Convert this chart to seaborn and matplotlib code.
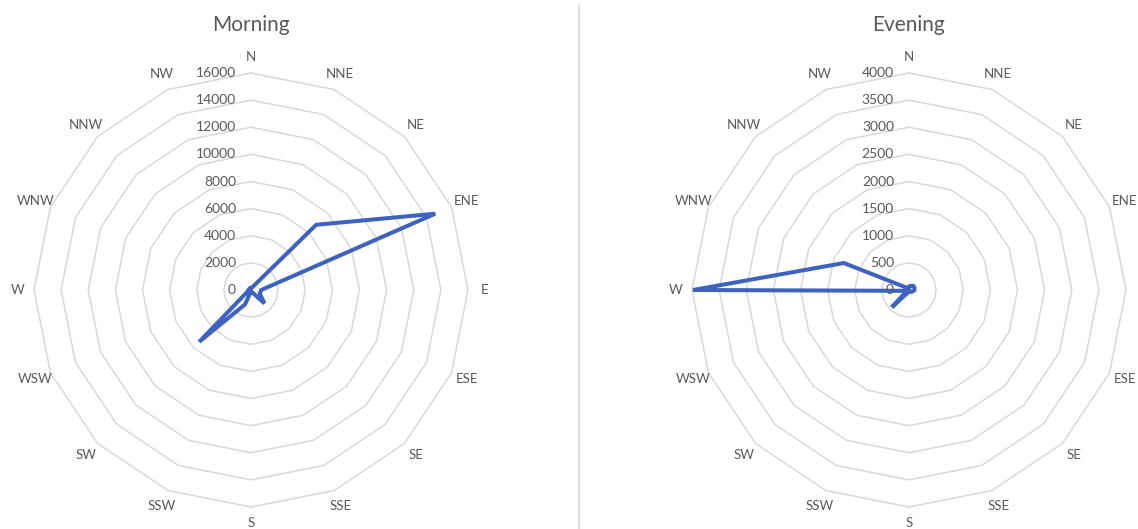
import numpy as np
import pandas as pd
import matplotlib
matplotlib.use("Agg")
import matplotlib.pyplot as plt
import matplotlib.transforms as mtransforms
from matplotlib.lines import Line2D
import seaborn as sns

# Wind direction categories, in the order they are plotted clockwise from the top
directions = ["N", "NNE", "NE", "ENE", "E", "ESE", "SE", "SSE",
              "S", "SSW", "SW", "WSW", "W", "WNW", "NNW", "NW"]

# Counts per direction
morning = [150, 200, 6800, 14700, 750, 700, 1400, 150,
           100, 1150, 5400, 250, 200, 150, 150, 150]
evening = [60, 80, 110, 110, 100, 70, 50, 30,
           30, 50, 450, 40, 3980, 1300, 60, 40]

# Radial scale steps
morning_ticks = [0, 2000, 4000, 6000, 8000, 10000, 12000, 14000, 16000]
evening_ticks = [0, 500, 1000, 1500, 2000, 2500, 3000, 3500, 4000]

sns.set_theme(style="white")
plt.rcParams["font.family"] = ["Lato", "DejaVu Sans"]

TEXT = "#595959"
GRID = "#d9d9d9"
LINE = "#3d62c2"

W, H = 1138, 529
R = 217  # outer ring radius in pixels

fig = plt.figure(figsize=(W / 100, H / 100), dpi=100)
fig.patch.set_facecolor("white")


def radar(cx, cy, title, values, ticks):
    ax = fig.add_axes([(cx - R) / W, (H - cy - R) / H, 2 * R / W, 2 * R / H],
                      projection="polar")
    ax.set_theta_zero_location("N")
    ax.set_theta_direction(-1)
    ax.set_facecolor("white")

    theta = np.linspace(0, 2 * np.pi, len(directions), endpoint=False)
    closed_t = np.append(theta, theta[0])
    rmax = ticks[-1]

    # polygonal rings
    for t in ticks[1:]:
        ax.plot(closed_t, np.full(len(closed_t), t), color=GRID, lw=1.1,
                zorder=1, clip_on=False)

    df = pd.DataFrame({"theta": closed_t,
                       "value": np.append(values, values[0])})
    sns.lineplot(data=df, x="theta", y="value", sort=False, estimator=None,
                 color=LINE, lw=2.9, ax=ax, zorder=3, clip_on=False,
                 solid_joinstyle="miter")

    ax.set_ylim(0, rmax)
    ax.grid(False)
    ax.spines["polar"].set_visible(False)
    ax.set_xticks([])
    ax.set_yticks([])
    ax.set_xlabel("")
    ax.set_ylabel("")

    # direction labels
    for t, d in zip(theta, directions):
        ax.text(t, rmax * 1.075, d, ha="center", va="center", fontsize=9.5,
                color=TEXT, clip_on=False)

    # radial value labels along the top axis
    shift = mtransforms.ScaledTranslation(-15 / 100, 0, fig.dpi_scale_trans)
    for t in ticks:
        ax.text(0, t, f"{t}", transform=ax.transData + shift, ha="right",
                va="center", fontsize=10, color=TEXT, clip_on=False)

    fig.text(cx / W, 1 - 25 / H, title, ha="center", va="center",
             fontsize=15, color=TEXT)
    return ax


radar(251, 290, "Morning", morning, morning_ticks)
radar(909, 290, "Evening", evening, evening_ticks)

# divider between the two charts
fig.add_artist(Line2D([579 / W, 579 / W], [0, 1 - 5 / H],
                      transform=fig.transFigure, color=GRID, lw=1.2))

fig.savefig("out.png", dpi=100, facecolor="white")
